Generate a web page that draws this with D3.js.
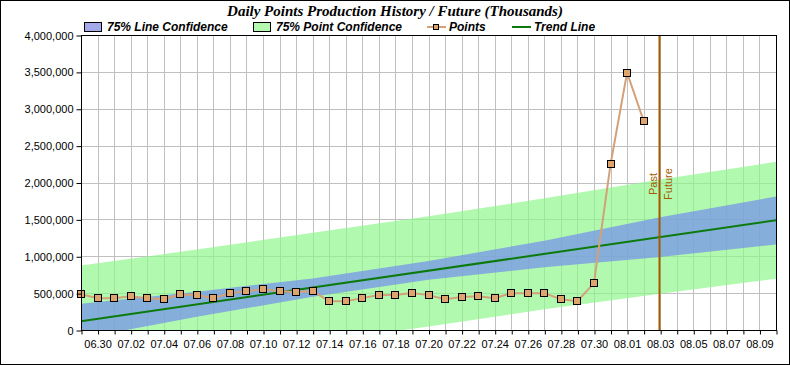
<!DOCTYPE html>
<html lang="en">
<head>
<meta charset="UTF-8">
<title>Daily Points Production History / Future</title>
<script src="https://d3js.org/d3.v7.min.js"></script>
<style>
  body { margin: 0; background: #fff; }
  svg { display: block; font-family: Arial, "Liberation Sans", sans-serif; }
</style>
</head>
<body>
<div id="chart"></div>
<script>
// ---- data ----
var year = "2012";
var pointDates = ["06.29","06.30","07.01","07.02","07.03","07.04","07.05","07.06","07.07","07.08",
  "07.09","07.10","07.11","07.12","07.13","07.14","07.15","07.16","07.17","07.18",
  "07.19","07.20","07.21","07.22","07.23","07.24","07.25","07.26","07.27","07.28",
  "07.29","07.30","07.31","08.01","08.02"];
var pointValues = [485000, 432000, 432000, 459000, 432000, 418000, 482000, 473000, 432000, 500000,
  527000, 554000, 527000, 514000, 527000, 391000, 391000, 432000, 473000, 473000,
  500000, 473000, 418000, 446000, 459000, 432000, 500000, 500000, 500000, 418000,
  391000, 636000, 2246000, 3489000, 2837000];

var trendDates = ["06.29", "08.10"];
var trendValues = [120000, 1488000];

var bandDates = ["06.29","07.06","07.13","07.20","07.27","08.03","08.10"];
var lineConfHigh = [356000, 520000, 700000, 935000, 1210000, 1530000, 1810000];
var lineConfLow = [-116000, 180000, 450000, 680000, 850000, 990000, 1160000];
var pointConfHigh = [876000, 1090000, 1320000, 1542000, 1785000, 2040000, 2280000];
var pointConfLow = [-640000, -410000, -180000, 48000, 280000, 492000, 696000];

var xStart = "06.29", xEnd = "08.10";
var splitDate = "08.03";
var xTickLabels = ["06.30","07.02","07.04","07.06","07.08","07.10","07.12","07.14","07.16","07.18",
  "07.20","07.22","07.24","07.26","07.28","07.30","08.01","08.03","08.05","08.07","08.09"];
var yTicks = [0, 500000, 1000000, 1500000, 2000000, 2500000, 3000000, 3500000, 4000000];

var legendItems = ["75% Line Confidence", "75% Point Confidence", "Points", "Trend Line"];

// ---- setup ----
var width = 790, height = 365;
var pLeft = 81, pRight = 776, pTop = 35, pBottom = 330;

var parse = d3.utcParse("%Y.%m.%d");
function toDate(s) { return parse(year + "." + s); }

var x = d3.scaleUtc().domain([toDate(xStart), toDate(xEnd)]).range([pLeft, pRight]);
var y = d3.scaleLinear().domain([0, 4000000]).range([pBottom, pTop]);

var svg = d3.select("#chart").append("svg")
  .attr("width", width).attr("height", height);

svg.append("rect").attr("x", 0.5).attr("y", 0.5)
  .attr("width", width - 1).attr("height", height - 1)
  .attr("fill", "#fff").attr("stroke", "#000");

svg.append("defs").append("clipPath").attr("id", "plotclip")
  .append("rect").attr("x", pLeft).attr("y", pTop)
  .attr("width", pRight - pLeft).attr("height", pBottom - pTop);

// grid
var days = d3.utcDay.range(toDate(xStart), d3.utcDay.offset(toDate(xEnd), 1));
var grid = svg.append("g");
grid.selectAll("line.v").data(days.slice(1, -1)).enter().append("line")
  .attr("x1", function(d){ return Math.round(x(d)) + 0.5; })
  .attr("x2", function(d){ return Math.round(x(d)) + 0.5; })
  .attr("y1", pTop).attr("y2", pBottom)
  .attr("stroke", "#c0c0c0");
grid.selectAll("line.h").data(yTicks.slice(1, -1)).enter().append("line")
  .attr("x1", pLeft).attr("x2", pRight)
  .attr("y1", function(d){ return Math.round(y(d)) + 0.5; })
  .attr("y2", function(d){ return Math.round(y(d)) + 0.5; })
  .attr("stroke", "#c0c0c0");

// bands
var plot = svg.append("g").attr("clip-path", "url(#plotclip)");

function bandData(hi, lo) {
  return bandDates.map(function(d, i){ return { date: toDate(d), hi: hi[i], lo: lo[i] }; });
}
var area = d3.area()
  .x(function(d){ return x(d.date); })
  .y0(function(d){ return y(d.lo); })
  .y1(function(d){ return y(d.hi); });

plot.append("path").datum(bandData(pointConfHigh, pointConfLow))
  .attr("d", area).attr("fill", "rgb(146,246,142)").attr("fill-opacity", 0.7);
plot.append("path").datum(bandData(lineConfHigh, lineConfLow))
  .attr("d", area).attr("fill", "rgb(118,148,232)").attr("fill-opacity", 0.75);

// trend line
var line = d3.line()
  .x(function(d){ return x(d.date); })
  .y(function(d){ return y(d.value); });

plot.append("path")
  .datum(trendDates.map(function(d, i){ return { date: toDate(d), value: trendValues[i] }; }))
  .attr("d", line).attr("fill", "none")
  .attr("stroke", "#0c7a0c").attr("stroke-width", 2);

// past / future divider
var sx = Math.round(x(toDate(splitDate))) - 0.5;
svg.append("line").attr("x1", sx).attr("x2", sx).attr("y1", pTop).attr("y2", pBottom)
  .attr("stroke", "#a45a00").attr("stroke-width", 2);
svg.append("text").attr("transform", "translate(" + (sx - 3) + ",184) rotate(-90)")
  .attr("text-anchor", "middle").attr("font-size", 11).attr("fill", "#a45a00").text("Past");
svg.append("text").attr("transform", "translate(" + (sx + 12) + ",184) rotate(-90)")
  .attr("text-anchor", "middle").attr("font-size", 11).attr("fill", "#a45a00").text("Future");

// points
var pts = pointDates.map(function(d, i){ return { date: toDate(d), value: pointValues[i] }; });
plot.append("path").datum(pts).attr("d", line).attr("fill", "none")
  .attr("stroke", "#d4a078").attr("stroke-width", 2);
svg.append("g").selectAll("rect").data(pts).enter().append("rect")
  .attr("x", function(d){ return Math.round(x(d.date)) - 3.5; })
  .attr("y", function(d){ return Math.round(y(d.value)) - 3.5; })
  .attr("width", 7).attr("height", 7)
  .attr("fill", "#dea46e").attr("stroke", "#000").attr("stroke-width", 1);

// frame
svg.append("rect").attr("x", pLeft + 0.5).attr("y", pTop + 0.5)
  .attr("width", pRight - pLeft).attr("height", pBottom - pTop)
  .attr("fill", "none").attr("stroke", "#000");

// axes
var yAxis = svg.append("g").attr("transform", "translate(" + (pLeft + 0.5) + ",0.5)")
  .call(d3.axisLeft(y).tickValues(yTicks).tickFormat(d3.format(",")).tickSize(5).tickPadding(3));
yAxis.select(".domain").remove();
yAxis.selectAll("text").attr("font-size", 11).attr("font-family", "Arial, 'Liberation Sans', sans-serif").attr("fill", "#000");
yAxis.selectAll("line").attr("stroke", "#000");

var xAxis = svg.append("g").attr("transform", "translate(0.5," + (pBottom + 0.5) + ")")
  .call(d3.axisBottom(x).tickValues(days).tickFormat("").tickSize(4));
xAxis.select(".domain").remove();
xAxis.selectAll("line").attr("stroke", "#000");

svg.append("g").selectAll("text").data(xTickLabels).enter().append("text")
  .attr("x", function(d){ return x(toDate(d)) + 0.5; })
  .attr("y", pBottom + 18)
  .attr("text-anchor", "middle").attr("font-size", 11).attr("fill", "#000")
  .text(function(d){ return d; });

// title
svg.append("text").attr("x", 395).attr("y", 16).attr("text-anchor", "middle")
  .style("font-family", "'Liberation Serif', 'Times New Roman', serif")
  .style("font-size", "15px").style("font-weight", "bold").style("font-style", "italic")
  .text("Daily Points Production History / Future (Thousands)");

// legend
var lg = svg.append("g").style("font-size", "12px").style("font-weight", "bold").style("font-style", "italic");
lg.append("rect").attr("x", 84.5).attr("y", 22.5).attr("width", 17).attr("height", 9)
  .attr("fill", "#a4a9ea").attr("stroke", "#000");
lg.append("text").attr("x", 107).attr("y", 31).text(legendItems[0]);
lg.append("rect").attr("x", 253.5).attr("y", 22.5).attr("width", 17).attr("height", 9)
  .attr("fill", "#b3f9b0").attr("stroke", "#000");
lg.append("text").attr("x", 276).attr("y", 31).text(legendItems[1]);
lg.append("line").attr("x1", 427).attr("x2", 446).attr("y1", 27).attr("y2", 27)
  .attr("stroke", "#d4a078").attr("stroke-width", 2);
lg.append("rect").attr("x", 433.5).attr("y", 24.5).attr("width", 5).attr("height", 5)
  .attr("fill", "#dea46e").attr("stroke", "#000");
lg.append("text").attr("x", 449).attr("y", 31).text(legendItems[2]);
lg.append("line").attr("x1", 512).attr("x2", 531).attr("y1", 27).attr("y2", 27)
  .attr("stroke", "#0c7a0c").attr("stroke-width", 2);
lg.append("text").attr("x", 534).attr("y", 31).text(legendItems[3]);
</script>
</body>
</html>
